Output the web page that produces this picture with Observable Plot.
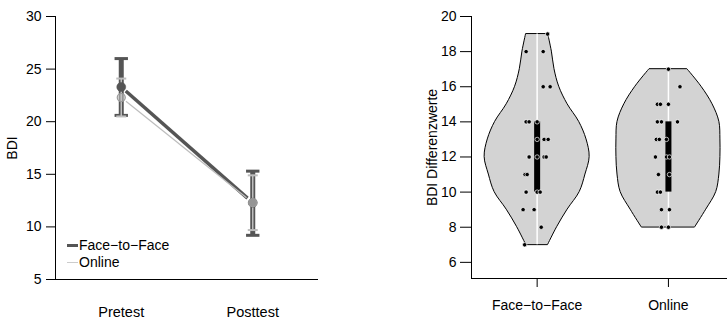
<!DOCTYPE html>
<html><head><meta charset="utf-8">
<script src="https://cdn.jsdelivr.net/npm/d3@7"></script>
<script src="https://cdn.jsdelivr.net/npm/@observablehq/plot@0.6"></script>
<style>
body{margin:0;background:#fff;font-family:"Liberation Sans",Arial,Helvetica,sans-serif}
#wrap{position:relative;width:727px;height:320px;overflow:hidden;background:#fff}
#left{position:absolute;left:0;top:0}
#right{position:absolute;left:360px;top:0}
.row{position:absolute;left:67px;font-size:14px;line-height:17px;height:17px;white-space:nowrap;color:#000}
.sw{display:inline-block;vertical-align:middle;margin-right:1px;position:relative;top:-1px}
</style></head><body>
<div id="wrap">
  <div id="left"></div>
  <div id="right"></div>
  <div class="row" style="top:237px"><span class="sw" style="width:11px;height:3px;background:#555"></span>Face−to−Face</div>
  <div class="row" style="top:254px"><span class="sw" style="width:11px;height:1px;background:#ccc"></span>Online</div>
</div>
<script>
// ---------- Left panel data ----------
const times = ["Pretest", "Posttest"];
const timePos = [1, 2];
const ftfMean = [23.3, 12.3];
const ftfLow  = [20.6, 9.2];
const ftfHigh = [26.0, 15.3];
const onlMean = [22.3, 12.3];
const onlLow  = [20.5, 9.7];
const onlHigh = [24.1, 14.9];
const yTicksL = [5, 10, 15, 20, 25, 30];

// ---------- Right panel data ----------
const groups = ["Face−to−Face", "Online"];
const groupPos = [1, 2];
const yTicksR = [6, 8, 10, 12, 14, 16, 18, 20];
// violin outline: value levels and relative density (half-width)
const violinFtfY = [7, 8, 9, 10, 11, 12, 13, 14, 15, 16, 17, 18, 19];
const violinFtfD = [0.21, 0.38, 0.58, 0.81, 0.92, 1.0, 0.94, 0.80, 0.58, 0.42, 0.33, 0.28, 0.21];
const violinOnlY = [8, 9, 10, 11, 12, 13, 14, 15, 16, 17];
const violinOnlD = [0.51, 0.72, 0.91, 0.97, 0.99, 0.99, 0.97, 0.84, 0.63, 0.36];
// box (quartiles)
const boxQ1 = [10, 10];
const boxQ3 = [14, 14];
const rangeMin = [7, 8];
const rangeMax = [19, 17];
// individual difference scores and their horizontal jitter
const ftfVals   = [19, 18, 18, 16, 16, 14, 14, 14, 13, 13, 13, 12, 12, 12, 12, 11, 11, 10, 10, 10, 9, 9, 8, 7];
const ftfJitter = [0.08, -0.084, 0.046, 0.046, 0.099, -0.084, -0.061, 0, 0, 0.053, 0.084, -0.061, 0, 0.053, 0.069, -0.092, -0.076, -0.084, 0, 0.023, -0.107, -0.023, 0.031, -0.095];
const onlVals   = [17, 16, 15, 15, 15, 14, 14, 14, 13, 13, 13, 12, 12, 12, 11, 11, 10, 10, 9, 9, 8, 8];
const onlJitter = [0, 0.088, -0.084, -0.061, 0, -0.084, -0.053, 0.069, -0.092, -0.069, -0.015, -0.099, -0.015, 0.008, -0.076, 0.008, -0.084, -0.061, -0.053, 0.008, -0.053, 0];

const font = '"Liberation Sans", Arial, Helvetica, sans-serif';
const dark = "#555555", light = "#bdbdbd";
const cap = {draw(ctx, size) { const r = Math.sqrt(size / Math.PI); ctx.moveTo(-r, 0); ctx.lineTo(r, 0); }};

const ftf = timePos.map((x, i) => ({x, mean: ftfMean[i], lo: ftfLow[i], hi: ftfHigh[i]}));
const onl = timePos.map((x, i) => ({x, mean: onlMean[i], lo: onlLow[i], hi: onlHigh[i]}));
const segF = [{x1: timePos[0], y1: ftfMean[0], x2: timePos[1], y2: ftfMean[1]}];
const segO = [{x1: timePos[0], y1: onlMean[0], x2: timePos[1], y2: onlMean[1]}];

const left = Plot.plot({
  width: 360, height: 320,
  marginLeft: 55, marginRight: 42, marginTop: 16, marginBottom: 41,
  style: {fontFamily: font, fontSize: "14px", color: "#000", background: "white", overflow: "visible"},
  x: {domain: [0.5, 2.5]},
  y: {domain: [5, 30]},
  marks: [
    Plot.ruleX([0.5], {y1: 5, y2: 30, stroke: "#000", strokeWidth: 1}),
    Plot.ruleY([5], {x1: 0.5, x2: 2.5, stroke: "#000", strokeWidth: 1}),
    Plot.axisY({ticks: yTicksL, tickSize: 9, tickPadding: 5, label: null, fontSize: 14}),
    Plot.axisX({ticks: timePos, tickFormat: d => times[d - 1], tickSize: 0, tickPadding: 27, label: null, fontSize: 14.5}),
    Plot.text(["BDI"], {frameAnchor: "left", rotate: -90, dx: -43, fontSize: 14, textAnchor: "middle", lineAnchor: "middle"}),
    // error bars
    Plot.ruleX(ftf, {x: "x", y1: "lo", y2: "hi", stroke: dark, strokeWidth: 5}),
    Plot.dot(ftf, {x: "x", y: "lo", symbol: cap, r: 6.7, stroke: dark, strokeWidth: 3, fill: "none"}),
    Plot.dot(ftf, {x: "x", y: "hi", symbol: cap, r: 6.7, stroke: dark, strokeWidth: 3, fill: "none"}),
    Plot.ruleX(onl, {x: "x", y1: "lo", y2: "hi", stroke: light, strokeWidth: 1.5}),
    Plot.dot(onl, {x: "x", y: "lo", symbol: cap, r: 5, stroke: light, strokeWidth: 2, fill: "none"}),
    Plot.dot(onl, {x: "x", y: "hi", symbol: cap, r: 5, stroke: light, strokeWidth: 2, fill: "none"}),
    // lines
    Plot.arrow(segF, {x1: "x1", y1: "y1", x2: "x2", y2: "y2", headLength: 0, insetStart: 6, insetEnd: 7, stroke: dark, strokeWidth: 3.5, strokeLinecap: "butt"}),
    Plot.arrow(segO, {x1: "x1", y1: "y1", x2: "x2", y2: "y2", headLength: 0, insetStart: 6, insetEnd: 8, stroke: light, strokeWidth: 1.2, strokeLinecap: "butt"}),
    // points
    Plot.dot(ftf, {x: "x", y: "mean", r: 4.5, fill: dark, stroke: dark, strokeWidth: 0.5}),
    Plot.dot(onl, {x: "x", y: "mean", r: 4, fill: "#c8c8c8", fillOpacity: 0.55, stroke: "#9a9a9a", strokeWidth: 1.2})
  ]
});
document.getElementById("left").appendChild(left);

// ---------- right ----------
const vF = violinFtfY.map((y, i) => ({y, d: violinFtfD[i], c: groupPos[0]}));
const vO = violinOnlY.map((y, i) => ({y, d: violinOnlD[i], c: groupPos[1]}));
const halfMax = 0.4;
const boxes = groupPos.map((x, i) => ({x, q1: boxQ1[i], q3: boxQ3[i], mn: rangeMin[i], mx: rangeMax[i]}));
const pts = [
  ...ftfVals.map((v, i) => ({v, x: groupPos[0] + ftfJitter[i]})),
  ...onlVals.map((v, i) => ({v, x: groupPos[1] + onlJitter[i]}))
];

const right = Plot.plot({
  width: 367, height: 320,
  marginLeft: 111, marginRight: 0, marginTop: 16, marginBottom: 42,
  style: {fontFamily: font, fontSize: "14px", color: "#000", background: "white", overflow: "visible"},
  x: {domain: [0.5, 2.45]},
  y: {domain: [5.08, 20]},
  marks: [
    Plot.ruleX([0.5], {y1: 5.08, y2: 20, stroke: "#000", strokeWidth: 1}),
    Plot.ruleY([5.08], {x1: 0.5, x2: 2.45, stroke: "#000", strokeWidth: 1}),
    Plot.axisY({ticks: yTicksR, tickSize: 11, tickPadding: 4, label: null, fontSize: 14}),
    Plot.axisX({ticks: groupPos, tickFormat: d => groups[d - 1], tickSize: 9, tickPadding: 13, label: null, fontSize: 14}),
    Plot.text(["BDI Differenzwerte"], {frameAnchor: "left", rotate: -90, dx: -39, fontSize: 14, textAnchor: "middle", lineAnchor: "middle"}),
    Plot.areaX(vF, {y: "y", x1: d => d.c - d.d * halfMax, x2: d => d.c + d.d * halfMax, fill: "#d3d3d3", stroke: "#000", strokeWidth: 1, curve: "catmull-rom"}),
    Plot.areaX(vO, {y: "y", x1: d => d.c - d.d * halfMax, x2: d => d.c + d.d * halfMax, fill: "#d3d3d3", stroke: "#000", strokeWidth: 1, curve: "catmull-rom"}),
    Plot.ruleX(boxes, {x: "x", y1: "mn", y2: "mx", stroke: "#fff", strokeWidth: 1.5}),
    Plot.ruleX(boxes, {x: "x", y1: "q1", y2: "q3", stroke: "#000", strokeWidth: 6}),
    Plot.dot(pts, {x: "x", y: "v", r: 2.2, fill: "#000", stroke: "#fff", strokeWidth: 0.7})
  ]
});
document.getElementById("right").appendChild(right);
</script>
</body></html>
